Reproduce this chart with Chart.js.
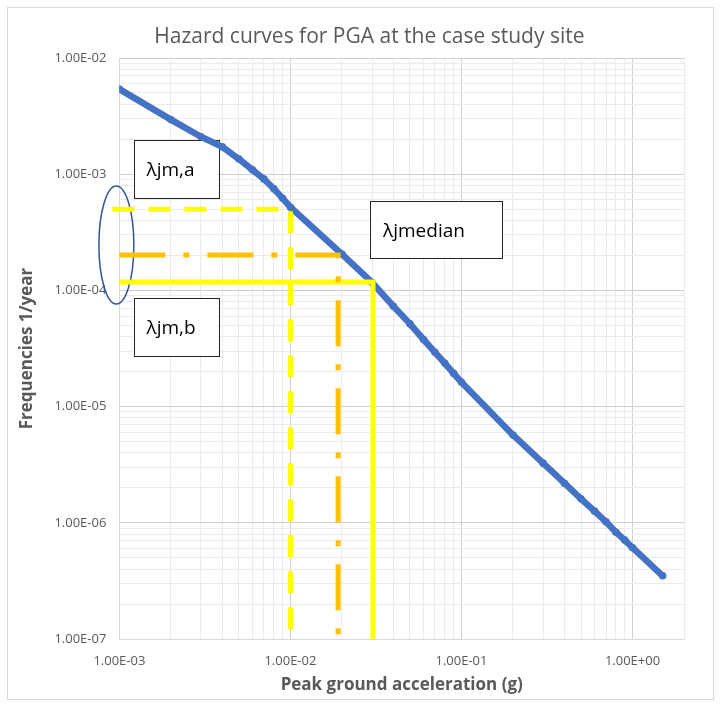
<!DOCTYPE html>
<html><head><meta charset="utf-8">
<script src="https://cdn.jsdelivr.net/npm/chart.js@4.4.1/dist/chart.umd.min.js"></script>
<style>html,body{margin:0;padding:0;background:#fff}#wrap{width:721px;height:706px;position:relative}</style>
</head><body><div id="wrap"><canvas id="c"></canvas></div>
<script>
// ---- data ----
const chartTitle = 'Hazard curves for PGA at the case study site';
const xTitle = 'Peak ground acceleration (g)';
const yTitle = 'Frequencies 1/year';
const pga  = [0.001,0.002,0.003,0.004,0.005,0.006,0.007,0.008,0.009,
              0.01,0.02,0.03,0.04,0.05,0.06,0.07,0.08,0.09,
              0.1,0.2,0.3,0.4,0.5,0.6,0.7,0.8,0.9,1.0,1.5];
const freq = [5.4e-3,2.95e-3,2.1e-3,1.72e-3,1.35e-3,1.09e-3,9.1e-4,7.5e-4,6.2e-4,
              5.2e-4,2.05e-4,1.17e-4,7.3e-5,5.15e-5,3.78e-5,2.93e-5,2.36e-5,1.93e-5,
              1.62e-5,5.7e-6,3.26e-6,2.19e-6,1.61e-6,1.26e-6,1.02e-6,8.3e-7,7.1e-7,6.1e-7,3.5e-7];
const xDecadeLabels = ['1.00E-03','1.00E-02','1.00E-01','1.00E+00'];
const yDecadeLabels = ['1.00E-07','1.00E-06','1.00E-05','1.00E-04','1.00E-03','1.00E-02'];
const refNames  = ['λjm,a','λjmedian','λjm,b'];
const refLevels = [5.0e-4, 2.02e-4, 1.18e-4];
const refPga    = [0.01, 0.019, 0.0304];
const refStart  = [9.1e-4, 1.0e-3, 1.0e-3];

// ---- helpers ----
const isDecade = v => Math.abs(Math.log10(v) - Math.round(Math.log10(v))) < 1e-6;
function logTicks(e0, e1, extra) {
  const t = [];
  for (let e = e0; e <= e1; e++) for (let m = 1; m <= 9; m++) t.push(Number((m * Math.pow(10, e)).toPrecision(10)));
  return t.concat(extra);
}
const xTickVals = logTicks(-3, -1, [1, 2]);
const yTickVals = logTicks(-7, -3, [0.01]);

const refStyles = [
  {color:'#FFFF00', dash:[22,14]},
  {color:'#FFC000', dash:[46,18,6,18]},
  {color:'#FFFF00', dash:[]}
];
const refDatasets = refNames.map((n, i) => ({
  label: n,
  data: [{x: refStart[i], y: refLevels[i]}, {x: refPga[i], y: refLevels[i]}, {x: refPga[i], y: 1e-7}],
  borderColor: refStyles[i].color,
  borderDash: refStyles[i].dash,
  borderWidth: 5,
  pointRadius: 0,
  borderCapStyle: 'butt',
  borderJoinStyle: 'miter',
  clip: false,
  tension: 0
}));

// annotation boxes in data coordinates
const boxes = [
  {text: refNames[0], x0: 1.21e-3, x1: 3.78e-3, y0: 1.97e-3, y1: 6.24e-4},
  {text: refNames[1], x0: 0.0292,  x1: 0.172,   y0: 5.87e-4, y1: 1.90e-4},
  {text: refNames[2], x0: 1.21e-3, x1: 3.78e-3, y0: 8.61e-5, y1: 2.72e-5}
];
const ellipseBox = {x0: 7.59e-4, x1: 1.215e-3, y0: 7.91e-4, y1: 7.64e-5};

const overlay = {
  id: 'overlay',
  beforeDraw(chart) {
    const {ctx, chartArea} = chart;
    ctx.save();
    ctx.fillStyle = '#fff';
    ctx.fillRect(0, 0, chart.width, chart.height);
    ctx.strokeStyle = '#d9d9d9';
    ctx.lineWidth = 1;
    ctx.strokeRect(7.5, 7.5, 706, 692);
    ctx.fillStyle = '#595959';
    ctx.font = '21px "Open Sans"';
    ctx.textAlign = 'center';
    ctx.textBaseline = 'middle';
    ctx.fillText(chartTitle, chartArea.left + 250, chartArea.top - 21);
    ctx.restore();
  },
  beforeDatasetsDraw(chart) {
    const {ctx} = chart;
    const xs = chart.scales.x, ys = chart.scales.y;
    ctx.save();
    boxes.forEach(b => {
      const l = xs.getPixelForValue(b.x0), r = xs.getPixelForValue(b.x1);
      const t = ys.getPixelForValue(b.y0), btm = ys.getPixelForValue(b.y1);
      ctx.fillStyle = '#fff';
      ctx.fillRect(l, t, r - l, btm - t);
      ctx.strokeStyle = '#262626';
      ctx.lineWidth = 1;
      ctx.strokeRect(Math.round(l) + 0.5, Math.round(t) + 0.5, Math.round(r - l), Math.round(btm - t));
      ctx.fillStyle = '#000';
      ctx.font = '19px "Open Sans"';
      ctx.textAlign = 'left';
      ctx.textBaseline = 'middle';
      ctx.fillText(b.text, l + 13, (t + btm) / 2 + 2);
    });
    const el = xs.getPixelForValue(ellipseBox.x0), er = xs.getPixelForValue(ellipseBox.x1);
    const et = ys.getPixelForValue(ellipseBox.y0), eb = ys.getPixelForValue(ellipseBox.y1);
    ctx.beginPath();
    ctx.ellipse((el + er) / 2, (et + eb) / 2, (er - el) / 2, (eb - et) / 2, 0, 0, Math.PI * 2);
    ctx.strokeStyle = '#2F5597';
    ctx.lineWidth = 1.5;
    ctx.stroke();
    ctx.restore();
  }
};

const gridColor = ctx => (ctx.tick && isDecade(ctx.tick.value)) ? '#d0d0d0' : '#ebebeb';

new Chart(document.getElementById('c'), {
  type: 'line',
  data: {
    datasets: refDatasets.concat([{
      label: 'Hazard curve',
      data: pga.map((x, i) => ({x, y: freq[i]})),
      borderColor: '#4472C4',
      backgroundColor: '#4472C4',
      borderWidth: 6.5,
      pointRadius: 3.8,
      pointBorderWidth: 0,
      pointBackgroundColor: '#4472C4',
      tension: 0,
      borderCapStyle: 'round',
      borderJoinStyle: 'round'
    }])
  },
  options: {
    responsive: true,
    maintainAspectRatio: false,
    animation: false,
    layout: {padding: {left: 8, right: 37, top: 58, bottom: 9}},
    plugins: {legend: {display: false}, tooltip: {enabled: false}, title: {display: false}},
    scales: {
      x: {
        type: 'logarithmic', min: 0.001, max: 2,
        afterBuildTicks: s => { s.ticks = xTickVals.map(v => ({value: v})); },
        ticks: {
          autoSkip: false, maxRotation: 0, padding: 14, color: '#595959',
          font: {family: 'Open Sans', size: 13},
          callback: v => isDecade(v) && v <= 1 ? xDecadeLabels[Math.round(Math.log10(v)) + 3] : ''
        },
        grid: {color: gridColor, drawTicks: false, lineWidth: 1},
        border: {color: '#d9d9d9'},
        title: {display: true, text: xTitle, color: '#595959',
                font: {family: 'Open Sans', size: 17, weight: 'bold'}, padding: {top: -8, bottom: 2}}
      },
      y: {
        type: 'logarithmic', min: 1e-7, max: 1e-2,
        afterBuildTicks: s => { s.ticks = yTickVals.map(v => ({value: v})); },
        ticks: {
          autoSkip: false, padding: 13, color: '#595959',
          font: {family: 'Open Sans', size: 13},
          callback: v => isDecade(v) ? yDecadeLabels[Math.round(Math.log10(v)) + 7] : ''
        },
        grid: {color: gridColor, drawTicks: false, lineWidth: 1},
        border: {color: '#d9d9d9'},
        title: {display: true, text: yTitle, color: '#595959',
                font: {family: 'Open Sans', size: 17, weight: 'bold'}, padding: {top: 9, bottom: 4}}
      }
    }
  },
  plugins: [overlay]
});
</script></body></html>
